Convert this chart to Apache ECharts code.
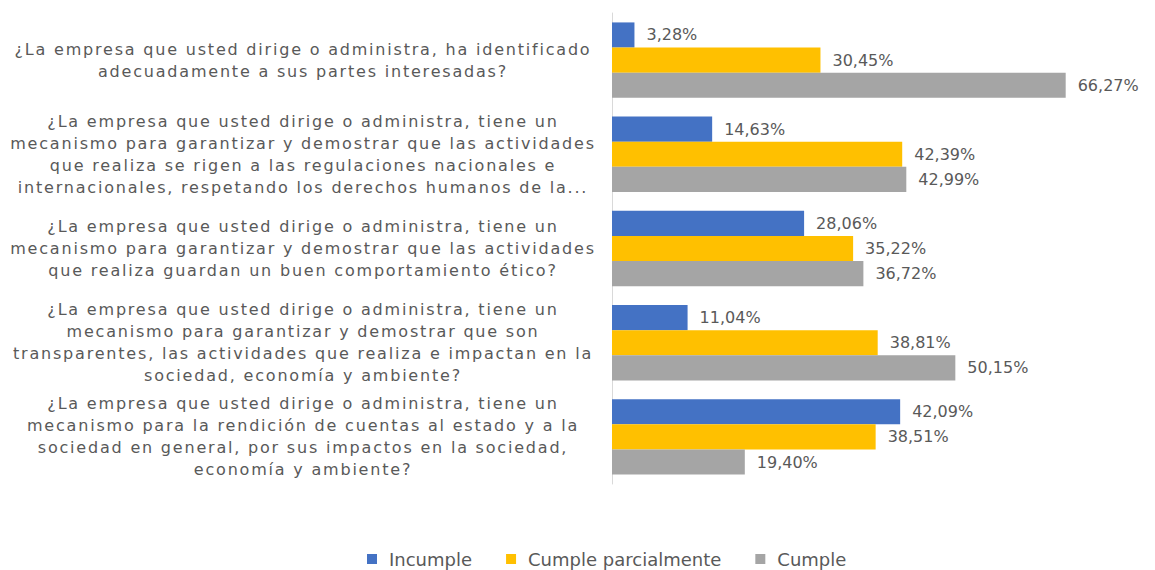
<!DOCTYPE html>
<html>
<head>
<meta charset="utf-8">
<script src="https://cdn.jsdelivr.net/npm/echarts@6/dist/echarts.min.js"></script>
<style>
html,body{margin:0;padding:0;background:#fff;}
#chart{width:1155px;height:570px;}
#chart svg text[text-anchor="middle"]{letter-spacing:1.8px;}
</style>
</head>
<body>
<div id="chart"></div>
<script>
const categories = [
  "¿La empresa que usted dirige o administra, ha identificado\nadecuadamente a sus partes interesadas?",
  "¿La empresa que usted dirige o administra, tiene un\nmecanismo para garantizar y demostrar que las actividades\nque realiza se rigen a las regulaciones nacionales e\ninternacionales, respetando los derechos humanos de la...",
  "¿La empresa que usted dirige o administra, tiene un\nmecanismo para garantizar y demostrar que las actividades\nque realiza guardan un buen comportamiento ético?",
  "¿La empresa que usted dirige o administra, tiene un\nmecanismo para garantizar y demostrar que son\ntransparentes, las actividades que realiza e impactan en la\nsociedad, economía y ambiente?",
  "¿La empresa que usted dirige o administra, tiene un\nmecanismo para la rendición de cuentas al estado y a la\nsociedad en general, por sus impactos en la sociedad,\neconomía y ambiente?"
];
const seriesNames = ["Incumple", "Cumple parcialmente", "Cumple"];
const incumple = [3.28, 14.63, 28.06, 11.04, 42.09];
const cumpleParcialmente = [30.45, 42.39, 35.22, 38.81, 38.51];
const cumple = [66.27, 42.99, 36.72, 50.15, 19.40];
const colors = ["#4472C4", "#FFC000", "#A5A5A5"];

const FONT = "'DejaVu Sans', sans-serif";
const fmt = p => p.value.toFixed(2).replace('.', ',') + '%';

const chart = echarts.init(document.getElementById('chart'), null, {renderer: 'svg'});
const mk = (name, data, color) => ({
  name: name,
  type: 'bar',
  data: data,
  barGap: '0%',
  barCategoryGap: '20%',
  itemStyle: {color: color},
  label: {
    show: true,
    position: 'right',
    distance: 12,
    formatter: fmt,
    color: '#595959',
    fontFamily: FONT,
    fontSize: 16
  },
  emphasis: {disabled: true}
});
chart.setOption({
  animation: false,
  grid: {left: 612, right: 9, top: 13, bottom: 86, containLabel: false},
  xAxis: {
    type: 'value', min: 0, max: 78,
    show: false
  },
  yAxis: {
    type: 'category',
    data: categories,
    inverse: true,
    axisLine: {show: true, lineStyle: {color: '#D9D9D9', width: 1}},
    axisTick: {show: false},
    axisLabel: {
      align: 'center',
      margin: 309,
      color: '#595959',
      fontFamily: FONT,
      fontSize: 16,
      lineHeight: 22
    }
  },
  legend: {
    top: 545,
    left: 362,
    itemWidth: 10,
    itemHeight: 10,
    itemGap: 34,
    icon: 'rect',
    textStyle: {color: '#595959', fontFamily: FONT, fontSize: 18, padding: [0, 0, 0, 7]},
    data: seriesNames
  },
  series: [
    mk(seriesNames[0], incumple, colors[0]),
    mk(seriesNames[1], cumpleParcialmente, colors[1]),
    mk(seriesNames[2], cumple, colors[2])
  ]
});
</script>
</body>
</html>
